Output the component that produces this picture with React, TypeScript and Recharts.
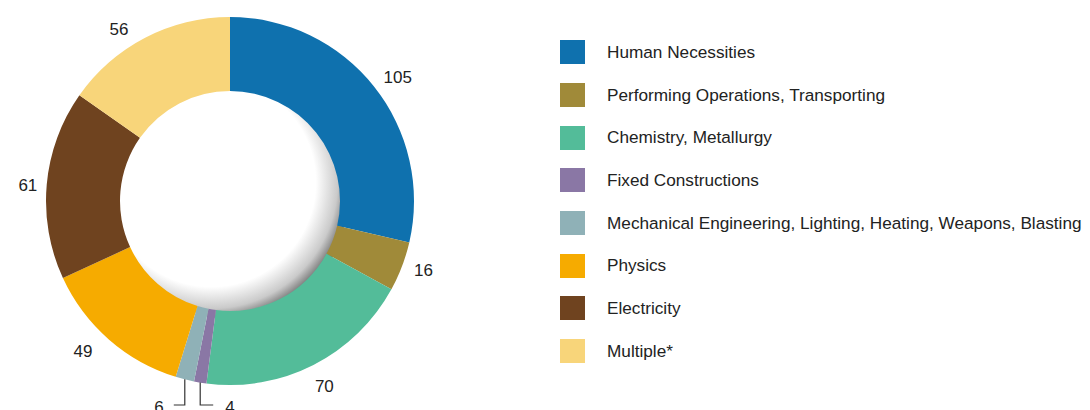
import React from "react";
import { PieChart, Pie, Cell, Legend, Customized } from "recharts";

const categories = [
  "Human Necessities",
  "Performing Operations, Transporting",
  "Chemistry, Metallurgy",
  "Fixed Constructions",
  "Mechanical Engineering, Lighting, Heating, Weapons, Blasting",
  "Physics",
  "Electricity",
  "Multiple*",
];
const counts = [105, 16, 70, 4, 6, 49, 61, 56];
const colors = [
  "#0f71ae",
  "#a08a39",
  "#53bc99",
  "#8a77a5",
  "#8fb1b7",
  "#f6ab00",
  "#6f431f",
  "#f8d57a",
];

const data = categories.map((name, i) => ({ name, value: counts[i] }));

const FONT = "'Liberation Sans', Arial, sans-serif";
const RAD = Math.PI / 180;

// small nudges so labels sit where the original put them
const labelNudge: Record<number, [number, number]> = {
  0: [5, 6],
  1: [-1, -5],
  5: [-10, -6],
  6: [5, 3],
  7: [-15, 13],
};

// small slices (4 and 6) get an elbow leader line going down
function renderLabel(props: any) {
  const { cx, cy, midAngle, outerRadius, value, index } = props;
  const cos = Math.cos(-midAngle * RAD);
  const sin = Math.sin(-midAngle * RAD);
  if (index === 3 || index === 4) {
    const x = cx + outerRadius * cos;
    const y = cy + outerRadius * sin;
    const yEnd = cy + 204;
    const right = index === 3;
    const tick = right ? 13 : -11;
    const gap = right ? 25 : -21;
    return (
      <g key={`lbl-${index}`}>
        <polyline
          points={`${x},${y} ${x},${yEnd} ${x + tick},${yEnd}`}
          fill="none"
          stroke="#333"
          strokeWidth={1.2}
        />
        <text
          x={x + gap}
          y={yEnd + 2}
          textAnchor={right ? "start" : "end"}
          dominantBaseline="central"
          fontFamily={FONT}
          fontSize={17}
          fill="#222"
        >
          {value}
        </text>
      </g>
    );
  }
  const r = outerRadius + 24;
  const [dx, dy] = labelNudge[index] || [0, 0];
  return (
    <text
      key={`lbl-${index}`}
      x={cx + r * cos + dx}
      y={cy + r * sin + dy}
      textAnchor="middle"
      dominantBaseline="central"
      fontFamily={FONT}
      fontSize={17}
      fill="#222"
    >
      {value}
    </text>
  );
}

function CenterHole() {
  return (
    <g>
      <defs>
        <radialGradient id="hole" cx="0.42" cy="0.42" r="0.62">
          <stop offset="0.72" stopColor="#ffffff" />
          <stop offset="0.87" stopColor="#cacaca" />
          <stop offset="1" stopColor="#4a4a4a" />
        </radialGradient>
      </defs>
      <circle cx={230} cy={201} r={117} fill="url(#hole)" />
    </g>
  );
}

function LegendList() {
  return (
    <div style={{ fontFamily: FONT, fontSize: 17.2, color: "#222" }}>
      {categories.map((name, i) => (
        <div
          key={name}
          style={{ display: "flex", alignItems: "center", height: 42.7 }}
        >
          <span
            style={{
              display: "inline-block",
              width: 25,
              height: 24,
              background: colors[i],
              marginRight: 22,
            }}
          />
          <span>{name}</span>
        </div>
      ))}
    </div>
  );
}

export default function App() {
  return (
    <div style={{ position: "fixed", left: 0, top: 0, background: "#fff" }}>
      <PieChart
        width={1090}
        height={410}
        margin={{ top: 0, right: 0, bottom: 0, left: 0 }}
      >
        <Pie
          data={data}
          dataKey="value"
          nameKey="name"
          cx={230}
          cy={201}
          innerRadius={110}
          outerRadius={184}
          startAngle={90}
          endAngle={-270}
          stroke="none"
          label={renderLabel}
          labelLine={false}
          isAnimationActive={false}
        >
          {data.map((d, i) => (
            <Cell key={d.name} fill={colors[i]} />
          ))}
        </Pie>
        <Customized component={CenterHole} />
        <Legend
          content={<LegendList />}
          wrapperStyle={{ position: "absolute", left: 560, top: 31, width: 530 }}
        />
      </PieChart>
    </div>
  );
}
